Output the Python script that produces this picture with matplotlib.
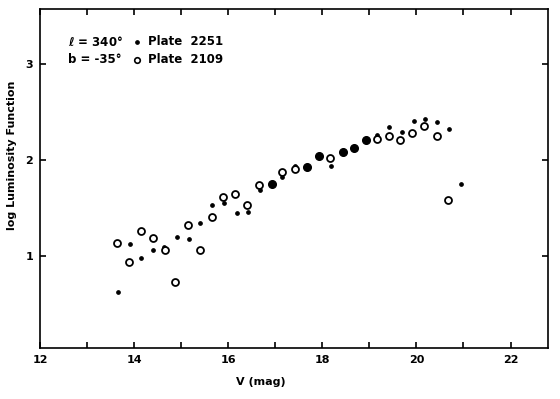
import matplotlib
matplotlib.use("Agg")
import matplotlib.pyplot as plt

# Plate 2251 (small dots)
v_2251 = [13.65, 13.91, 14.15, 14.41, 14.64, 14.91, 15.17, 15.41, 15.66, 15.90,
          16.18, 16.43, 16.68, 17.15, 17.43, 18.19, 19.17, 19.42, 19.69, 19.94,
          20.18, 20.44, 20.70, 20.94]
lf_2251 = [0.62, 1.12, 0.97, 1.06, 1.09, 1.19, 1.17, 1.34, 1.53, 1.55,
           1.45, 1.46, 1.69, 1.82, 1.94, 1.94, 2.26, 2.34, 2.29, 2.41,
           2.43, 2.39, 2.32, 1.75]

# Plate 2109 (open circles)
v_2109 = [13.63, 13.89, 14.14, 14.40, 14.65, 14.87, 15.15, 15.41, 15.65, 15.89,
          16.14, 16.41, 16.66, 17.15, 17.43, 18.17, 19.17, 19.42, 19.66, 19.91,
          20.17, 20.43, 20.68]
lf_2109 = [1.13, 0.93, 1.26, 1.18, 1.06, 0.72, 1.32, 1.06, 1.40, 1.61,
           1.64, 1.53, 1.74, 1.87, 1.90, 2.02, 2.22, 2.25, 2.21, 2.28,
           2.35, 2.25, 1.58]

# both plates coincide (filled circles)
v_both = [16.94, 17.68, 17.93, 18.44, 18.67, 18.92]
lf_both = [1.75, 1.93, 2.04, 2.08, 2.12, 2.21]

x_ticks = list(range(12, 23))
x_labels = ["12", "", "14", "", "16", "", "18", "", "20", "", "22"]
y_ticks = [1, 2, 3]

plt.rcParams['font.family'] = ['DejaVu Sans']
plt.rcParams['font.weight'] = 'bold'

fig = plt.figure(figsize=(5.6, 3.99), dpi=100)
ax = fig.add_axes([0.0714, 0.1266, 0.9075, 0.8496])

ax.plot(v_2251, lf_2251, linestyle='none', marker='o', markersize=2.4,
        color='black')
ax.plot(v_2109, lf_2109, linestyle='none', marker='o', markersize=5,
        markerfacecolor='white', markeredgecolor='black', markeredgewidth=1.3)
ax.plot(v_both, lf_both, linestyle='none', marker='o', markersize=5.5,
        color='black')

ax.set_xlim(12, 22.8)
ax.set_ylim(0.03, 3.57)
ax.set_xticks(x_ticks)
ax.set_xticklabels(x_labels)
ax.set_yticks(y_ticks)

for s in ax.spines.values():
    s.set_linewidth(1.2)
ax.tick_params(direction='in', top=True, right=True, length=4, width=1.2,
               labelsize=8, pad=5)

ax.set_xlabel("V (mag)", fontsize=8, fontweight='bold')
ax.xaxis.set_label_coords(0.435, -0.085)
ax.set_ylabel("log Luminosity Function", fontsize=8, fontweight='bold')
ax.yaxis.set_label_coords(-0.045, 0.57)

ax.text(0.056, 0.905, r"$\mathbf{\ell}$ = 340°", transform=ax.transAxes,
        fontsize=8.5, va='center')
ax.text(0.056, 0.852, "b = -35°", transform=ax.transAxes, fontsize=8.5,
        va='center')
ax.plot([0.191], [0.905], transform=ax.transAxes, marker='o', markersize=2.4,
        color='black')
ax.plot([0.191], [0.852], transform=ax.transAxes, marker='o', markersize=4,
        markerfacecolor='white', markeredgecolor='black', markeredgewidth=1.2)
ax.text(0.213, 0.905, "Plate  2251", transform=ax.transAxes, fontsize=8.5,
        va='center')
ax.text(0.213, 0.852, "Plate  2109", transform=ax.transAxes, fontsize=8.5,
        va='center')

plt.savefig("out.png", dpi=100)
plt.close()
